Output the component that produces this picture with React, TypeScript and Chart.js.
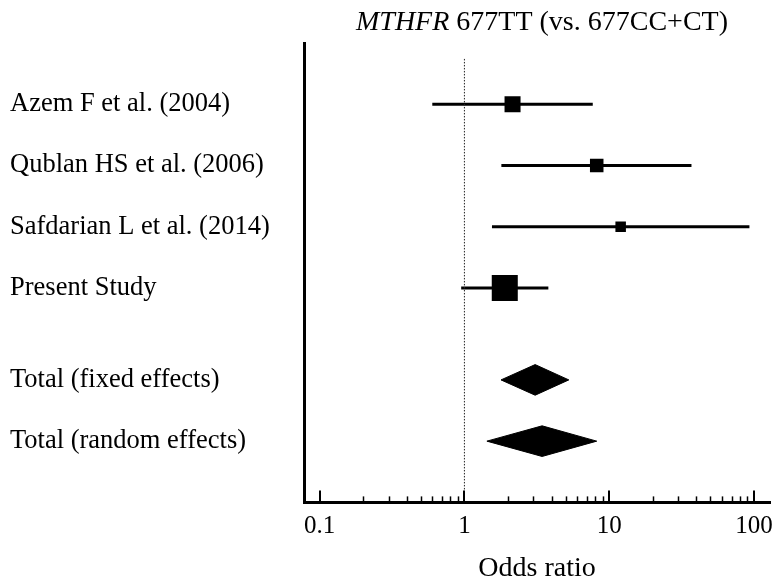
import React, { useEffect, useRef } from "react";
import { Chart, registerables } from "chart.js";

Chart.register(...registerables);

const TITLE_ITALIC = "MTHFR";
const TITLE_REST = " 677TT (vs. 677CC+CT)";
const X_TITLE = "Odds ratio";

const studyLabels = [
  "Azem F et al. (2004)",
  "Qublan HS et al. (2006)",
  "Safdarian L et al. (2014)",
  "Present Study",
];
const studyOR = [2.15, 8.2, 12.0, 1.9];
const studyLower = [0.6, 1.8, 1.55, 0.95];
const studyUpper = [7.7, 37, 93, 3.8];
const studyWeight = [20.9, 14.9, 9.0, 55.2];

const pooledLabels = ["Total (fixed effects)", "Total (random effects)"];
const pooledOR = [3.08, 3.44];
const pooledLower = [1.79, 1.43];
const pooledUpper = [5.26, 8.2];

const xTickValues = [0.1, 1, 10, 100];

const FONT = "'Liberation Serif', 'Times New Roman', serif";
const DIAMOND_HALF = 0.25;

export default function App() {
  const ref = useRef<HTMLCanvasElement>(null);

  useEffect(() => {
    if (!ref.current) return;
    const studyRows = studyLabels.map((_, i) => i);
    const pooledRows = pooledLabels.map((_, j) => studyLabels.length + 0.5 + j);
    const rowValues = [...studyRows, ...pooledRows];
    const rowLabels = [...studyLabels, ...pooledLabels];
    const maxW = Math.max(...studyWeight);

    const datasets: any[] = [];
    datasets.push({
      type: "line",
      data: [
        { x: 1, y: -0.74 },
        { x: 1, y: 6.5 },
      ],
      borderColor: "#222",
      borderWidth: 1,
      borderDash: [1.5, 1.5],
      pointRadius: 0,
      fill: false,
    });
    studyRows.forEach((r, i) =>
      datasets.push({
        type: "line",
        data: [
          { x: studyLower[i], y: r },
          { x: studyUpper[i], y: r },
        ],
        borderColor: "#000",
        borderWidth: 3,
        pointRadius: 0,
        fill: false,
      })
    );
    datasets.push({
      type: "scatter",
      data: studyRows.map((r, i) => ({ x: studyOR[i], y: r })),
      pointStyle: "rect",
      pointRadius: studyWeight.map((w) => 18.4 * Math.sqrt(w / maxW)),
      pointHoverRadius: studyWeight.map((w) => 18.4 * Math.sqrt(w / maxW)),
      backgroundColor: "#000",
      borderColor: "#000",
      borderWidth: 0,
    });
    pooledRows.forEach((r, j) =>
      datasets.push({
        type: "line",
        data: [
          { x: pooledLower[j], y: r },
          { x: pooledOR[j], y: r - DIAMOND_HALF },
          { x: pooledUpper[j], y: r },
          { x: pooledOR[j], y: r + DIAMOND_HALF },
          { x: pooledLower[j], y: r },
        ],
        borderColor: "#000",
        backgroundColor: "#000",
        borderWidth: 1,
        pointRadius: 0,
        tension: 0,
        fill: "shape",
      })
    );

    const decor = {
      id: "forestDecor",
      afterDraw(chart: any) {
        const { ctx, chartArea, scales } = chart;
        const x = scales.x;
        ctx.save();
        ctx.strokeStyle = "#000";
        const vals: number[] = [];
        for (let d = -1; d <= 1; d++) for (let m = 1; m <= 9; m++) vals.push(m * Math.pow(10, d));
        vals.push(100);
        vals.forEach((v, k) => {
          const major = k % 9 === 0;
          ctx.lineWidth = major ? 2 : 1.5;
          const px = Math.round(x.getPixelForValue(v)) + (major ? 0 : 0.5);
          ctx.beginPath();
          ctx.moveTo(px, chartArea.bottom);
          ctx.lineTo(px, chartArea.bottom - (major ? 12 : 6));
          ctx.stroke();
        });
        // title
        const size = 28;
        const fi = `italic ${size}px ${FONT}`;
        const fn = `${size}px ${FONT}`;
        ctx.font = fi;
        const w1 = ctx.measureText(TITLE_ITALIC).width;
        ctx.font = fn;
        const w2 = ctx.measureText(TITLE_REST).width;
        const cx = (chartArea.left + chartArea.right) / 2 + 5;
        const sx = cx - (w1 + w2) / 2;
        ctx.fillStyle = "#000";
        ctx.textBaseline = "alphabetic";
        ctx.textAlign = "left";
        ctx.font = fi;
        ctx.fillText(TITLE_ITALIC, sx, 30);
        ctx.font = fn;
        ctx.fillText(TITLE_REST, sx + w1, 30);
        ctx.restore();
      },
    };

    const chart = new Chart(ref.current, {
      type: "scatter",
      data: { datasets },
      options: {
        animation: false,
        responsive: false,
        events: [],
        layout: { autoPadding: false, padding: { left: 10, top: 43, right: 10, bottom: 0 } },
        plugins: {
          legend: { display: false },
          tooltip: { enabled: false },
          title: { display: false },
        },
        scales: {
          x: {
            type: "logarithmic",
            min: 0.078,
            max: 129,
            afterBuildTicks: (s: any) => {
              s.ticks = xTickValues.map((v) => ({ value: v }));
            },
            afterFit: (s: any) => {
              s.paddingLeft = 0;
              s.paddingRight = 0;
            },
            ticks: {
              callback: (v: any) => String(v),
              font: { family: FONT, size: 25 },
              color: "#000",
              padding: 9,
              maxRotation: 0,
              autoSkip: false,
            },
            grid: { display: false, drawTicks: false },
            border: { display: true, color: "#000", width: 3 },
            title: {
              display: true,
              text: X_TITLE,
              font: { family: FONT, size: 28 },
              color: "#000",
              padding: { top: 1, bottom: 0 },
            },
          },
          y: {
            type: "linear",
            reverse: true,
            min: -1,
            max: 6.5,
            afterBuildTicks: (s: any) => {
              s.ticks = rowValues.map((v) => ({ value: v }));
            },
            afterFit: (s: any) => {
              s.width = 294;
            },
            ticks: {
              callback: (_v: any, i: number) => rowLabels[i],
              crossAlign: "far",
              font: { family: FONT, size: 26.5 },
              color: "#000",
              autoSkip: false,
            },
            grid: { display: false, drawTicks: false },
            border: { display: true, color: "#000", width: 3 },
          },
        },
      } as any,
      plugins: [decor],
    });
    return () => chart.destroy();
  }, []);

  return (
    <div style={{ position: "absolute", left: 0, top: 0, width: 780, height: 585, background: "#fff" }}>
      <canvas ref={ref} width={780} height={585} style={{ display: "block" }} />
    </div>
  );
}
